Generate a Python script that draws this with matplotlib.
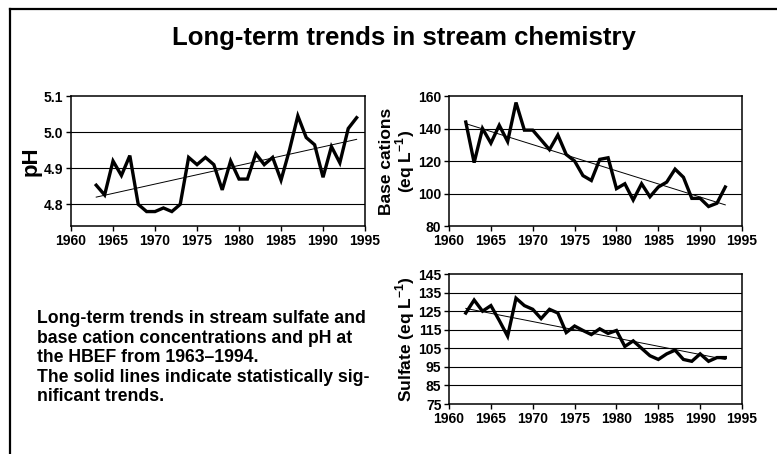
import matplotlib

matplotlib.use("Agg")
import matplotlib.pyplot as plt
from matplotlib.lines import Line2D

plt.rcParams["font.family"] = ["Liberation Sans", "DejaVu Sans"]
plt.rcParams["font.weight"] = "bold"
plt.rcParams["axes.labelweight"] = "bold"
plt.rcParams["mathtext.fontset"] = "custom"
plt.rcParams["mathtext.rm"] = "Liberation Sans:bold"
plt.rcParams["mathtext.bf"] = "Liberation Sans:bold"

# pH, 1963-1994
PH_YEARS = list(range(1963, 1995))
PH_VALUES = [4.853, 4.826, 4.92, 4.88, 4.935, 4.80, 4.78, 4.78, 4.79, 4.78,
             4.80, 4.93, 4.91, 4.93, 4.91, 4.84, 4.92, 4.87, 4.87, 4.94,
             4.91, 4.93, 4.867, 4.95, 5.045, 4.985, 4.965, 4.875, 4.96, 4.915,
             5.01, 5.04]
PH_TREND_YEARS = [1963, 1994]
PH_TREND = [4.82, 4.98]

# base cations, 1962-1993
BC_YEARS = list(range(1962, 1994))
BC_VALUES = [144, 119, 140, 131, 142, 132, 156, 139, 139, 133,
             127, 136, 124, 120, 111, 108, 121, 122, 103, 106,
             96, 106, 98, 104, 107, 115, 110, 97, 97, 92,
             94, 104]
BC_TREND_YEARS = [1962, 1993]
BC_TREND = [143, 93]

# sulfate, 1962-1993
SO4_YEARS = list(range(1962, 1994))
SO4_VALUES = [124, 131, 125, 128, 120, 111.5, 132, 128, 126, 121,
              126, 124, 113.5, 117, 114.6, 112.4, 115.5, 113, 114.6, 106,
              109, 105, 101, 99, 102, 104, 99, 98, 102, 98,
              100, 100]
SO4_TREND_YEARS = [1962, 1993]
SO4_TREND = [126.5, 99]

X_TICKS = list(range(1960, 1996, 5))

TITLE = "Long-term trends in stream chemistry"
CAPTION = ("Long-term trends in stream sulfate and\n"
           "base cation concentrations and pH at\n"
           "the HBEF from 1963\u20131994.\n"
           "The solid lines indicate statistically sig-\n"
           "nificant trends.")


def style_panel(ax, years, values, trend_years, trend, ylim, yticks, fmt):
    ax.set_xlim(1960, 1995)
    ax.set_ylim(*ylim)
    ax.set_xticks(X_TICKS)
    ax.set_xticklabels([str(x) for x in X_TICKS], fontweight="bold")
    ax.set_yticks(yticks)
    ax.set_yticklabels([fmt.format(v) for v in yticks], fontweight="bold")
    for y in yticks:
        if ylim[0] < y < ylim[1]:
            ax.axhline(y, color="black", lw=0.8, zorder=1)
    ax.plot(trend_years, trend, color="black", lw=0.7, zorder=2)
    ax.plot(years, values, color="black", lw=2.4, solid_joinstyle="miter", zorder=3)
    ax.tick_params(axis="both", labelsize=10, length=3.5, width=1, pad=2)
    for s in ax.spines.values():
        s.set_linewidth(1.1)


fig = plt.figure(figsize=(7.77, 4.54), dpi=100)

ax_ph = fig.add_axes([0.0914, 0.5022, 0.3784, 0.2863])
style_panel(ax_ph, PH_YEARS, PH_VALUES, PH_TREND_YEARS, PH_TREND,
            (4.74, 5.1), [4.8, 4.9, 5.0, 5.1], "{:.1f}")
ax_ph.set_ylabel("pH", fontsize=16, labelpad=2)

ax_bc = fig.add_axes([0.5779, 0.5022, 0.3771, 0.2863])
style_panel(ax_bc, BC_YEARS, BC_VALUES, BC_TREND_YEARS, BC_TREND,
            (80, 160), [80, 100, 120, 140, 160], "{:d}")
ax_bc.set_ylabel("Base cations\n(eq L$^{-1}$)", fontsize=12.5,
                 labelpad=1, linespacing=0.95)

ax_so4 = fig.add_axes([0.5779, 0.1101, 0.3771, 0.2863])
style_panel(ax_so4, SO4_YEARS, SO4_VALUES, SO4_TREND_YEARS, SO4_TREND,
            (75, 145), list(range(75, 146, 10)), "{:d}")
ax_so4.set_ylabel("Sulfate (eq L$^{-1}$)", fontsize=12.5, labelpad=1)

fig.text(0.52, 0.916, TITLE, ha="center", va="center", fontsize=18.5,
         fontweight="bold")
fig.text(0.047, 0.212, CAPTION, ha="left", va="center", fontsize=12.7,
         fontweight="bold", linespacing=1.2)

# partial outer frame (top and left edges only, as in the scan)
fig.add_artist(Line2D([0.013, 1.0], [0.980, 0.980], color="black", lw=1.6))
fig.add_artist(Line2D([0.013, 0.013], [0.0, 0.980], color="black", lw=1.6))

fig.savefig("out.png", dpi=100)
